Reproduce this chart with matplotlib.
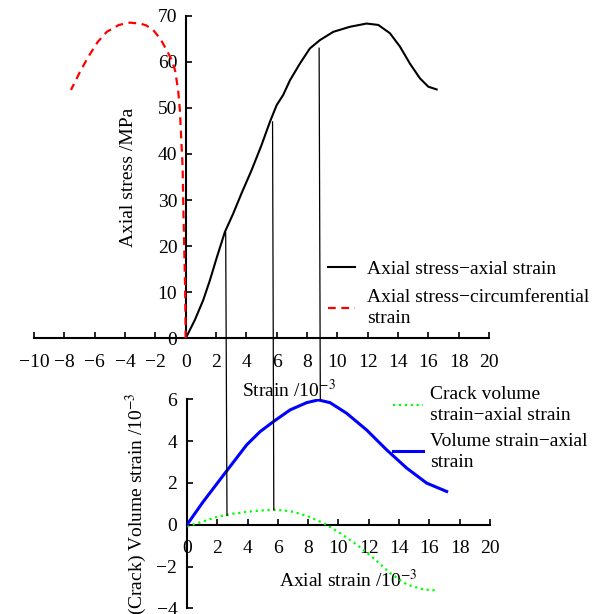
import numpy as np
import matplotlib.pyplot as plt
from matplotlib.patches import ConnectionPatch

plt.rcParams['font.family'] = ['Liberation Serif', 'DejaVu Serif']
plt.rcParams['mathtext.fontset'] = 'stix'
plt.rcParams['font.size'] = 14
plt.rcParams['axes.unicode_minus'] = True

# Axial stress vs axial strain (strain in 10^-3, stress in MPa)
axial_strain = [0, 0.11, 0.61, 1.16, 1.6, 2.04, 2.59, 3.14, 3.69, 4.35, 5.0,
                5.56, 6.0, 6.43, 6.88, 7.53, 8.19, 8.85, 9.73, 10.83, 11.93,
                12.7, 13.47, 14.13, 14.79, 15.45, 16.0, 16.55]
axial_stress = [0, 0.7, 4.0, 8.3, 12.6, 17.4, 23.1, 27.1, 31.5, 36.5, 41.9,
                47, 50.6, 52.8, 56, 59.6, 62.9, 64.7, 66.5, 67.6, 68.3,
                68.0, 66.2, 63.3, 59.6, 56.4, 54.6, 54]

# Axial stress vs circumferential strain
circ_strain = [0, -0.03, -0.09, -0.15, -0.2, -0.3, -0.38, -0.5, -0.7, -0.95,
               -1.25, -1.65, -2.14, -2.6, -3.0, -3.67, -4.4, -5.2, -5.8,
               -6.42, -7.0, -7.56]
circ_stress = [0, 10, 19.2, 28, 37.2, 44, 49.5, 54, 58.2, 60.6,
               62.5, 64.9, 66.9, 67.9, 68.3, 68.5, 68.0, 66.5, 64.3,
               61.1, 57.6, 53.9]

# Volume strain vs axial strain
vol_axial = [0, 1.08, 2.51, 3.94, 4.82, 5.7, 6.8, 7.9, 8.67, 9.44, 10.54,
             11.86, 13.18, 14.5, 15.82, 17.14]
vol_strain = [0, 1.11, 2.47, 3.82, 4.45, 4.93, 5.49, 5.84, 5.97, 5.84, 5.33,
              4.53, 3.58, 2.71, 1.99, 1.59]

# Crack volume strain vs axial strain
crack_axial = [0, 0.86, 1.96, 3.06, 4.38, 5.7, 6.8, 7.9, 9.0, 10.1, 11.2,
               12.3, 13.4, 14.5, 15.6, 16.59]
crack_strain = [-0.08, 0.11, 0.37, 0.53, 0.65, 0.72, 0.65, 0.43, 0.08, -0.4,
                -0.95, -1.59, -2.31, -2.86, -3.1, -3.15]

# stage boundaries: (axial strain, stress on top curve, volume value below)
mark_strain = [2.64, 5.73, 8.8]
mark_stress = [23, 47, 63]
mark_volume = [0.43, 0.7, 5.97]

fig = plt.figure(figsize=(5.94, 6.14), dpi=100)
ax1 = fig.add_axes([0.0572, 0.449, 0.766, 0.5254])
ax2 = fig.add_axes([0.3148, 0.00928, 0.5101, 0.3404])

for ax in (ax1, ax2):
    ax.spines['top'].set_visible(False)
    ax.spines['right'].set_visible(False)
    for s in ('left', 'bottom'):
        ax.spines[s].set_linewidth(1.5)
    ax.tick_params(direction='in', length=4, width=1.2, labelsize=14)
    ax.patch.set_alpha(0)

# upper panel: stress-strain
ax1.plot(axial_strain, axial_stress, color='black', lw=1.5, zorder=3,
         label='Axial stress\u2212axial strain')
ax1.plot(circ_strain, circ_stress, color='red', lw=1.6, ls=(0, (3.5, 2.5)),
         zorder=3, label='Axial stress\u2212circumferential\nstrain')
ax1.set_xlim(-10, 20)
ax1.set_ylim(0, 70)
ax1.set_xticks(np.arange(-10, 21, 2))
ax1.set_yticks(np.arange(0, 71, 10))
ax1.spines['left'].set_position(('data', 0))
ax1.tick_params(axis='x', pad=11)
ax1.tick_params(axis='y', pad=6)
ax1.set_xlabel('Strain /10$^{-3}$')
ax1.xaxis.set_label_coords(0.56, -0.127)
ax1.set_ylabel('Axial stress /MPa')
ax1.yaxis.set_label_coords(0.226, 0.5)
leg1 = ax1.legend(loc='upper left', bbox_to_anchor=(328 / 594, 1 - 260 / 614),
                  bbox_transform=fig.transFigure, frameon=False, borderpad=0,
                  borderaxespad=0, handlelength=1.4, handletextpad=0.6,
                  labelspacing=0.6, fontsize=14)
for t in leg1.get_texts():
    t.set_linespacing(1.3)

# lower panel: volume strain
ax2.plot(crack_axial, crack_strain, color='#00ff00', lw=1.6, ls=':', zorder=3,
         label='Crack volume\nstrain\u2212axial strain')
ax2.plot(vol_axial, vol_strain, color='#0000ff', lw=2.2, zorder=3,
         label='Volume strain\u2212axial\nstrain')
ax2.set_xlim(0, 20)
ax2.set_ylim(-4, 6)
ax2.set_xticks(np.arange(0, 21, 2))
ax2.set_yticks(np.arange(-4, 7, 2))
ax2.spines['bottom'].set_position(('data', 0))
ax2.tick_params(axis='x', pad=11)
ax2.tick_params(axis='y', pad=7)
ax2.set_xlabel('Axial strain /10$^{-3}$')
ax2.xaxis.set_label_coords(0.531, 0.19)
ax2.set_ylabel('(Crack) Volume strain /10$^{-3}$')
ax2.yaxis.set_label_coords(-0.125, 0.5)
leg2 = ax2.legend(loc='upper left', bbox_to_anchor=(393 / 594, 1 - 386 / 614),
                  bbox_transform=fig.transFigure, frameon=False, borderpad=0,
                  borderaxespad=0, handlelength=1.55, handletextpad=0.36,
                  labelspacing=0.46, fontsize=14)
for t in leg2.get_texts():
    t.set_linespacing(1.3)

# thin guide lines linking the two panels
for xs, ys, yv in zip(mark_strain, mark_stress, mark_volume):
    con = ConnectionPatch(xyA=(xs, ys), coordsA=ax1.transData,
                          xyB=(xs, yv), coordsB=ax2.transData,
                          color='black', lw=0.9, zorder=5)
    fig.add_artist(con)

fig.savefig('out.png', dpi=100)
